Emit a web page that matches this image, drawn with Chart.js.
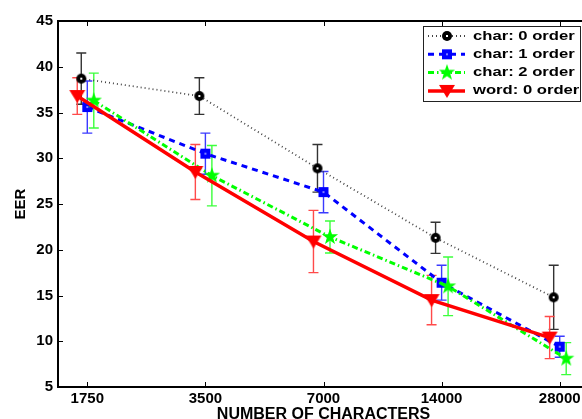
<!DOCTYPE html>
<html>
<head>
<meta charset="utf-8">
<script src="https://cdn.jsdelivr.net/npm/chart.js@4.4.1/dist/chart.umd.min.js"></script>
<style>
  html, body { margin: 0; padding: 0; background: #fff; overflow: hidden; }
  #wrap { width: 582px; height: 419px; overflow: hidden; }
  canvas { display: block; }
</style>
</head>
<body>
<div id="wrap"><canvas id="eer" width="600" height="440"></canvas></div>
<script>
// ---------- DATA ----------
const chars = [1750, 3500, 7000, 14000, 28000];
const xLabels = ["1750", "3500", "7000", "14000", "28000"];
const seriesNames = ["char: 0 order", "char: 1 order", "char: 2 order", "word: 0 order"];

const char0 = [38.7, 36.8, 28.9, 21.3, 14.8];
const char0Err = [2.8, 2.0, 2.6, 1.7, 3.5];

const char1 = [35.6, 30.5, 26.3, 16.4, 9.4];
const char1Err = [2.85, 2.25, 2.25, 1.9, 1.15];

const char2 = [36.3, 28.1, 21.4, 16.0, 8.1];
const char2Err = [3.0, 3.3, 1.75, 3.2, 1.75];

const word0 = [36.8, 28.5, 20.9, 14.5, 10.4];
const word0Err = [2.0, 3.0, 3.4, 2.7, 2.3];

const FONT = '"Liberation Sans", Arial, Helvetica, sans-serif';

// ---------- MARKERS ----------
function makeMarker(size, draw) {
  const c = document.createElement("canvas");
  c.width = size;
  c.height = size;
  draw(c.getContext("2d"), size / 2);
  return c;
}

const circleMark = makeMarker(12, (g, m) => {
  g.fillStyle = "#000";
  g.beginPath();
  g.arc(m, m, 5, 0, Math.PI * 2);
  g.fill();
  g.fillStyle = "#fff";
  g.fillRect(m - 1, m - 1, 2, 2);
});

const squareMark = makeMarker(12, (g, m) => {
  g.fillStyle = "#0000ff";
  g.fillRect(m - 5, m - 5, 10, 10);
  g.fillStyle = "#8080ff";
  g.fillRect(m - 1, m - 1, 2, 2);
});

const starMark = makeMarker(18, (g, m) => {
  g.fillStyle = "#00ff00";
  g.beginPath();
  for (let k = 0; k < 10; k++) {
    const r = k % 2 === 0 ? 8.5 : 3.4;
    const a = -Math.PI / 2 + (k * Math.PI) / 5;
    g.lineTo(m + r * Math.cos(a), m + r * Math.sin(a));
  }
  g.closePath();
  g.fill();
});

const triangleMark = makeMarker(18, (g, m) => {
  g.fillStyle = "#ff0000";
  g.beginPath();
  g.moveTo(m - 8, m - 6);
  g.lineTo(m + 8, m - 6);
  g.lineTo(m, m + 7);
  g.closePath();
  g.fill();
});

// ---------- SERIES STYLES ----------
const series = [
  { label: seriesNames[0], y: char0, err: char0Err, line: "#444444", bar: "#333333",
    width: 1.8, dash: [1, 3], marker: circleMark, shift: -0.051, order: 3 },
  { label: seriesNames[1], y: char1, err: char1Err, line: "#0000ff", bar: "#3a3aff",
    width: 3, dash: [6, 5], marker: squareMark, shift: 0, order: 2 },
  { label: seriesNames[2], y: char2, err: char2Err, line: "#00ff00", bar: "#3cff3c",
    width: 3, dash: [6, 3, 1.5, 3], marker: starMark, shift: 0.055, order: 1 },
  { label: seriesNames[3], y: word0, err: word0Err, line: "#ff0000", bar: "#ff4a4a",
    width: 3.5, dash: [], marker: triangleMark, shift: -0.085, order: 0 },
];

const datasets = series.map((s) => ({
  label: s.label,
  data: chars.map((c, i) => ({ x: c * 2 ** s.shift, y: s.y[i] })),
  errors: s.err,
  barColor: s.bar,
  borderColor: s.line,
  borderWidth: s.width,
  borderDash: s.dash,
  pointStyle: s.marker,
  pointRadius: 6,
  order: s.order,
  fill: false,
  tension: 0,
}));

// ---------- PLUGINS ----------
const errorBars = {
  id: "errorBars",
  beforeDatasetsDraw(chart) {
    const { ctx, scales: { x, y } } = chart;
    ctx.save();
    chart.data.datasets.forEach((ds) => {
      ctx.strokeStyle = ds.barColor;
      ctx.lineWidth = 1.4;
      ds.data.forEach((p, i) => {
        const px = x.getPixelForValue(p.x);
        const top = y.getPixelForValue(p.y + ds.errors[i]);
        const bot = y.getPixelForValue(p.y - ds.errors[i]);
        ctx.beginPath();
        ctx.moveTo(px, top);
        ctx.lineTo(px, bot);
        ctx.moveTo(px - 5, top);
        ctx.lineTo(px + 5, top);
        ctx.moveTo(px - 5, bot);
        ctx.lineTo(px + 5, bot);
        ctx.stroke();
      });
    });
    ctx.restore();
  },
};

// top border plus matlab-style inward ticks
const frame = {
  id: "frame",
  afterDatasetsDraw(chart) {
    const { ctx, chartArea: a, scales: { x, y } } = chart;
    ctx.save();
    ctx.strokeStyle = "#000";
    ctx.lineWidth = 2;
    ctx.beginPath();
    ctx.moveTo(a.left - 1, a.top);
    ctx.lineTo(a.right + 1, a.top);
    ctx.stroke();
    ctx.lineWidth = 1;
    ctx.beginPath();
    x.ticks.forEach((t) => {
      const px = Math.round(x.getPixelForValue(t.value)) + 0.5;
      ctx.moveTo(px, a.bottom);
      ctx.lineTo(px, a.bottom - 5);
      ctx.moveTo(px, a.top);
      ctx.lineTo(px, a.top + 5);
    });
    y.ticks.forEach((t) => {
      const py = Math.round(y.getPixelForValue(t.value)) + 0.5;
      ctx.moveTo(a.left, py);
      ctx.lineTo(a.left + 5, py);
    });
    ctx.stroke();
    ctx.restore();
  },
};

const boxLegend = {
  id: "boxLegend",
  afterDraw(chart) {
    const { ctx } = chart;
    const left = 423, top = 26, w = 157, h = 75;
    ctx.save();
    ctx.fillStyle = "#fff";
    ctx.fillRect(left, top, w, h);
    ctx.strokeStyle = "#222";
    ctx.lineWidth = 1;
    ctx.strokeRect(left + 0.5, top + 0.5, w, h);
    chart.data.datasets.forEach((ds, i) => {
      const ry = top + 10 + i * 18.3;
      ctx.strokeStyle = ds.borderColor;
      ctx.lineWidth = ds.borderWidth;
      ctx.setLineDash(ds.borderDash);
      ctx.beginPath();
      ctx.moveTo(428, ry);
      ctx.lineTo(465, ry);
      ctx.stroke();
      ctx.setLineDash([]);
      const m = ds.pointStyle;
      ctx.drawImage(m, 447 - m.width / 2, ry - m.height / 2);
      ctx.save();
      ctx.translate(473, ry);
      ctx.scale(1.28, 1);
      ctx.fillStyle = "#000";
      ctx.font = "bold 13px " + FONT;
      ctx.textBaseline = "middle";
      ctx.fillText(ds.label, 0, 0);
      ctx.restore();
    });
    ctx.restore();
  },
};

// ---------- CHART ----------
const tickFont = { family: FONT, size: 15, weight: "bold" };

new Chart(document.getElementById("eer").getContext("2d"), {
  type: "line",
  data: { datasets },
  options: {
    responsive: false,
    animation: false,
    devicePixelRatio: 1,
    layout: { padding: { top: 21, right: 11, bottom: 0, left: 0 } },
    plugins: {
      legend: { display: false },
      tooltip: { enabled: false },
    },
    scales: {
      x: {
        type: "logarithmic",
        min: chars[0] / 2 ** 0.248,
        max: chars[chars.length - 1] * 2 ** 0.248,
        afterBuildTicks: (s) => {
          s.ticks = chars.map((v) => ({ value: v }));
        },
        afterFit: (s) => {
          s.height = 53;
        },
        grid: { display: false, drawTicks: false },
        border: { display: true, color: "#000", width: 2 },
        ticks: {
          callback: (v, i) => xLabels[i],
          font: tickFont,
          color: "#000",
          padding: 3,
          maxRotation: 0,
          autoSkip: false,
        },
        title: {
          display: true,
          text: "NUMBER OF CHARACTERS",
          color: "#000",
          font: { family: FONT, size: 16, weight: "bold", lineHeight: 1.2 },
          padding: { top: 0, bottom: 16 },
        },
      },
      y: {
        min: 5,
        max: 45,
        afterFit: (s) => {
          s.width = 58;
        },
        grid: { display: false, drawTicks: false },
        border: { display: true, color: "#000", width: 2 },
        ticks: { stepSize: 5, font: tickFont, color: "#000", padding: 5 },
        title: {
          display: true,
          text: "EER",
          color: "#000",
          font: { family: FONT, size: 15, weight: "bold", lineHeight: 1.2 },
          padding: { top: 12, bottom: 0 },
        },
      },
    },
  },
  plugins: [errorBars, frame, boxLegend],
});
</script>
</body>
</html>
